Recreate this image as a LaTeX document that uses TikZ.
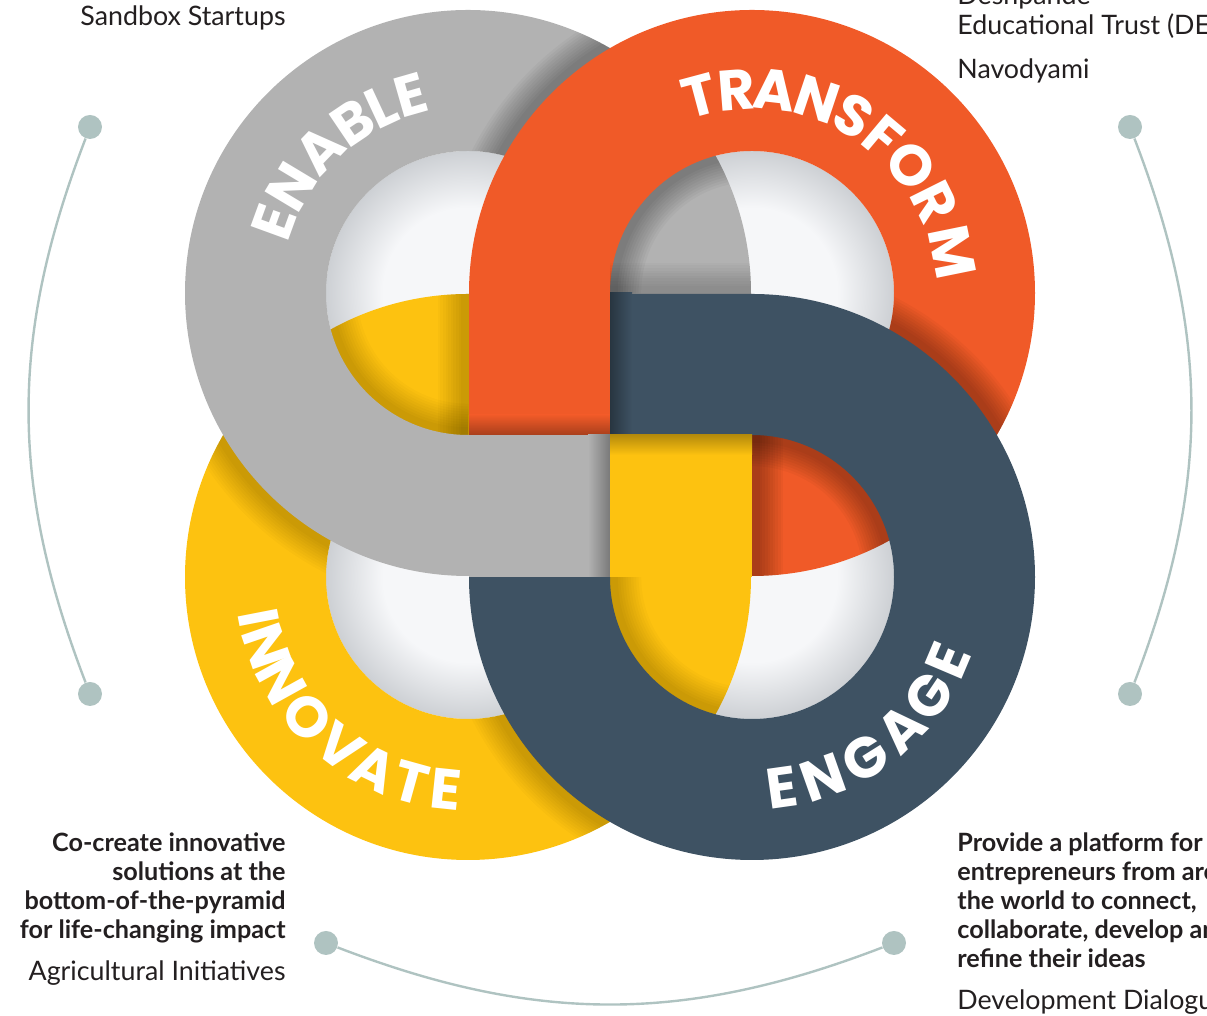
\documentclass[tikz,border=0pt]{standalone}
\usepackage{fontspec}
\setmainfont{Lato}
\newfontfamily\ringfont{Poppins}

\definecolor{ringgray}{HTML}{B2B2B2}
\definecolor{ringorange}{HTML}{F05A28}
\definecolor{ringyellow}{HTML}{FDC210}
\definecolor{ringnavy}{HTML}{3E5263}
\definecolor{holein}{HTML}{F6F7F9}
\definecolor{holeout}{HTML}{CDD0D4}
\definecolor{dotcol}{HTML}{AFC3C1}
\definecolor{inkcol}{HTML}{231F20}

\pgfdeclareradialshading{hole}{\pgfpoint{0bp}{0bp}}{color(0bp)=(holein); color(15bp)=(holein); color(25bp)=(holeout); color(50bp)=(holeout)}

\newcommand\ringout{283}
\newcommand\ringin{142}
\newcommand\castop{0.03}
\newcommand\ringshape[2]{([shift={({#2+90}:\ringout)}]#1) arc[start angle={#2+90}, delta angle=270, radius=\ringout] -- ++({#2+90}:\ringout) -- cycle ([shift={({#2+90}:\ringin)}]#1) arc[start angle={#2+90}, delta angle=270, radius=\ringin] -- ++({#2+90}:\ringin) -- cycle}
\newcommand\castarc[4]{\foreach \w in {3,...,12} \draw[castshade=2.6*\w pt] ([shift={(#2:#4)}]#1) arc[start angle=#2, end angle=#3, radius=#4];}
\newcommand\castline[2]{\foreach \w in {3,...,12} \draw[castshade=2.6*\w pt] (#1) -- (#2);}

\begin{document}
\begin{tikzpicture}[x=0.5pt, y=0.5pt,
  castshade/.style={draw=black, draw opacity=\castop, line width=#1},
  ringletter/.style={text=white, inner sep=0, font=\ringfont\bfseries\fontsize{28.5}{28.5}\selectfont},
  dot/.style={circle, fill=dotcol, inner sep=0, minimum size=12pt},
  arcline/.style={draw=dotcol, line width=1.2pt},
  lighttext/.style={text=inkcol, inner sep=0, font=\fontsize{13.4}{16}\selectfont},
  boldtext/.style={text=inkcol, inner sep=0, font=\bfseries\fontsize{12.6}{14.5}\selectfont}]
\useasboundingbox (0,0) rectangle (1207,1016);
\clip (0,0) rectangle (1207,1016);

\coordinate (cgray) at (468,723);
\coordinate (corange) at (752,723);
\coordinate (cyellow) at (468,439);
\coordinate (cnavy) at (752,439);
\coordinate (aleft1) at (469,581);
\coordinate (aleft2) at (469,723);
\coordinate (dright1) at (752,439);
\coordinate (dright2) at (752,581);
\coordinate (btop1) at (610,722);
\coordinate (btop2) at (752,722);

\foreach \c in {cgray,corange,cyellow,cnavy}
  \shade[shading=hole] (\c) circle[radius=\ringin];

\fill[ringyellow, even odd rule] \ringshape{cyellow}{0};
\begin{scope}[even odd rule]
  \renewcommand\castop{0.018}
  \clip \ringshape{cyellow}{0};
  \castarc{cgray}{180}{270}{\ringout}
  \castarc{cgray}{180}{270}{\ringin}
  \castline{aleft1}{aleft2}
\end{scope}

\fill[ringgray, even odd rule] \ringshape{cgray}{270};
\begin{scope}[even odd rule]
  \renewcommand\castop{0.033}
  \clip \ringshape{cgray}{270};
  \castarc{corange}{90}{180}{\ringout}
  \castarc{corange}{90}{180}{\ringin}
\end{scope}

\fill[ringorange, even odd rule] \ringshape{corange}{180};
\begin{scope}[even odd rule]
  \clip \ringshape{corange}{180};
  \castarc{cnavy}{0}{90}{\ringout}
  \castarc{cnavy}{0}{90}{\ringin}
  \castline{dright1}{dright2}
\end{scope}
\begin{scope}[even odd rule]
  \renewcommand\castop{0.018}
  \clip \ringshape{cyellow}{0};
  \castarc{cnavy}{180}{270}{\ringout}
  \castarc{cnavy}{180}{270}{\ringin}
\end{scope}
\begin{scope}[even odd rule]
  \renewcommand\castop{0.02}
  \clip \ringshape{cgray}{270};
  \castline{btop1}{btop2}
\end{scope}

\fill[ringnavy, even odd rule] \ringshape{cnavy}{90};

\fill[ringorange] (469,581) rectangle (610,723);
\shade[top color=ringorange, bottom color=ringorange!70!black] (469,581) rectangle (610,601);
\shade[left color=ringnavy!65!black, right color=ringnavy] (610,581) rectangle (632,723);
\fill[ringgray] (469,439) rectangle (610,581);
\shade[left color=ringgray, right color=ringgray!68!black] (588,439) rectangle (610,581);
\fill[ringyellow] (610,439) rectangle (752,581);
\shade[top color=ringyellow!72!black, bottom color=ringyellow] (610,561) rectangle (752,581);

\foreach \ch/\ang [count=\i] in {E/160,N/149,A/136,B/124,L/115,E/106}
  \node[ringletter, rotate=\ang-90] (enable\i) at ([shift={(\ang:206)}]cgray) {\ch};
\foreach \ch/\ang [count=\i] in {T/105,R/94.5,A/83.5,N/71.5,S/60,F/50,O/38.5,R/26.5,M/11.5}
  \node[ringletter, rotate=\ang-90] (transform\i) at ([shift={(\ang:204)}]corange) {\ch};
\foreach \ch/\ang [count=\i] in {I/191,N/199,N/209,O/221,V/233,A/244,T/254.5,E/264}
  \node[ringletter, rotate=\ang+90] (innovate\i) at ([shift={(\ang:213)}]cyellow) {\ch};
\foreach \ch/\ang [count=\i] in {E/278,N/289.5,G/302,A/314.5,G/326,E/337}
  \node[ringletter, rotate=\ang+90] (engage\i) at ([shift={(\ang:213)}]cnavy) {\ch};

\node[dot] (dotL1) at (90,889) {};
\node[dot] (dotL2) at (90,322) {};
\node[dot] (dotR1) at (1130,889) {};
\node[dot] (dotR2) at (1130,322) {};
\node[dot] (dotB1) at (326,73) {};
\node[dot] (dotB2) at (894,73) {};
\draw[arcline] (dotL1) to[bend right=21] (dotL2);
\draw[arcline] (dotR1) to[bend left=21] (dotR2);
\draw[arcline] (dotB1) to[bend right=21] (dotB2);

\node[lighttext, anchor=base east] (sandbox) at (286,990) {Sandbox Startups};
\node[lighttext, anchor=base west] (deshpande) at (957,1011) {Deshpande};
\node[lighttext, anchor=base west] (educational) at (957,981) {Educational Trust (DET)};
\node[lighttext, anchor=base west] (navodyami) at (957,937) {Navodyami};
\node[boldtext, align=right, anchor=north east] (pyramid) at (286,184)
  {Co-create innovative\\solutions at the\\bottom-of-the-pyramid\\for life-changing impact};
\node[lighttext, anchor=base east] (agri) at (286,35) {Agricultural Initiatives};
\node[boldtext, align=left, anchor=north west] (platform) at (957,184)
  {Provide a platform for\\entrepreneurs from around\\the world to connect,\\collaborate, develop and\\refine their ideas};
\node[lighttext, anchor=base west] (devdialogue) at (957,6) {Development Dialogue};
\end{tikzpicture}
\end{document}
